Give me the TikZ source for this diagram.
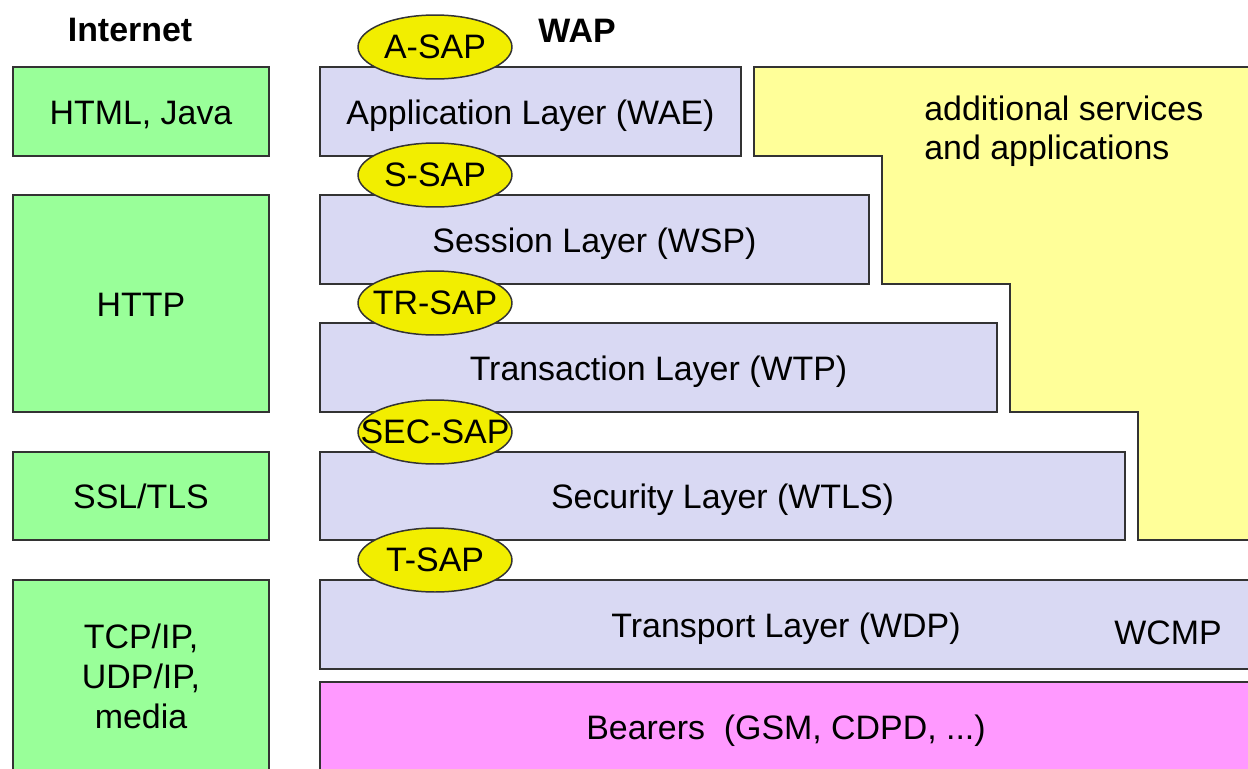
\documentclass[tikz,border=0pt]{standalone}
\usepackage{fontspec}
\setmainfont{Liberation Sans}
\usetikzlibrary{shapes.geometric}
\definecolor{netgreen}{HTML}{99FF99}
\definecolor{waplav}{HTML}{D9D9F3}
\definecolor{addyel}{HTML}{FFFF99}
\definecolor{bearmag}{HTML}{FF99FF}
\definecolor{sapyel}{HTML}{F2EE00}
\definecolor{edge}{HTML}{333333}
\tikzset{
  basebox/.style={draw=edge, line width=0.85pt, inner sep=0pt, align=center,
    font=\fontsize{19.3}{22.7}\selectfont},
  oneline/.style={text height=14.7pt, text depth=0pt},
  gbox/.style={basebox, fill=netgreen, minimum width=5.12cm},
  lbox/.style={basebox, oneline, fill=waplav},
  mbox/.style={basebox, oneline, fill=bearmag},
  sapshape/.style={ellipse, draw=edge, line width=0.85pt, fill=sapyel,
    minimum width=3.08cm, minimum height=1.28cm, inner sep=0pt},
  saptext/.style={inner sep=0pt, font=\fontsize{19.3}{22.7}\selectfont},
  head/.style={inner sep=0pt, font=\fontsize{19.3}{22.7}\selectfont\bfseries},
  plain/.style={inner sep=0pt, font=\fontsize{19.3}{22.2}\selectfont, align=left}
}
\begin{document}
\begin{tikzpicture}[x=0.02cm,y=-0.02cm]
\useasboundingbox (0,0) rectangle (1248,768);
\clip (0,0) rectangle (1248,768);
% headings
\node[head] (internet) at (130,30) {Internet};
\node[head] (wap) at (577,31) {WAP};
% additional services area
\draw[fill=addyel, draw=edge, line width=0.85pt]
  (754,67) -- (1270,67) -- (1270,540) -- (1138,540) -- (1138,412)
  -- (1010,412) -- (1010,284) -- (882,284) -- (882,156) -- (754,156) -- cycle;
\node[plain, anchor=west] (addserv) at (924,131) {additional services\\and applications};
% Internet column
\node[gbox, oneline, minimum height=1.78cm] (html) at (141,111.5) {HTML, Java};
\node[gbox, oneline, minimum height=4.34cm] (http) at (141,303.5) {HTTP};
\node[gbox, oneline, minimum height=1.76cm] (ssl) at (141,496) {SSL/TLS};
\node[gbox, minimum height=3.84cm] (tcp) at (141,676) {TCP/IP,\\UDP/IP,\\media};
% WAP column
\node[lbox, minimum width=8.42cm, minimum height=1.78cm] (wae) at (530.5,111.5) {Application Layer (WAE)};
\node[lbox, minimum width=10.98cm, minimum height=1.78cm] (wsp) at (594.5,239.5) {Session Layer (WSP)};
\node[lbox, minimum width=13.54cm, minimum height=1.78cm] (wtp) at (658.5,367.5) {Transaction Layer (WTP)};
\node[lbox, minimum width=16.10cm, minimum height=1.76cm] (wtls) at (722.5,496) {Security Layer (WTLS)};
\node[lbox, minimum width=18.64cm, minimum height=1.78cm] (wdp) at (786,624.5) {Transport Layer (WDP)};
\node[mbox, minimum width=18.64cm, minimum height=1.80cm] (bear) at (786,727) {Bearers\ \ (GSM, CDPD, ...)};
\node[saptext] (wcmp) at (1168,633) {WCMP};
% service access points
\node[sapshape] (asap) at (435,47) {};
\node[saptext] (asapt) at (asap) {A-SAP};
\node[sapshape] (ssap) at (435,175) {};
\node[saptext] (ssapt) at (ssap) {S-SAP};
\node[sapshape] (trsap) at (435,303) {};
\node[saptext] (trsapt) at (trsap) {TR-SAP};
\node[sapshape] (secsap) at (435,432) {};
\node[saptext] (secsapt) at (secsap) {SEC-SAP};
\node[sapshape] (tsap) at (435,560) {};
\node[saptext] (tsapt) at (tsap) {T-SAP};
\end{tikzpicture}
\end{document}
